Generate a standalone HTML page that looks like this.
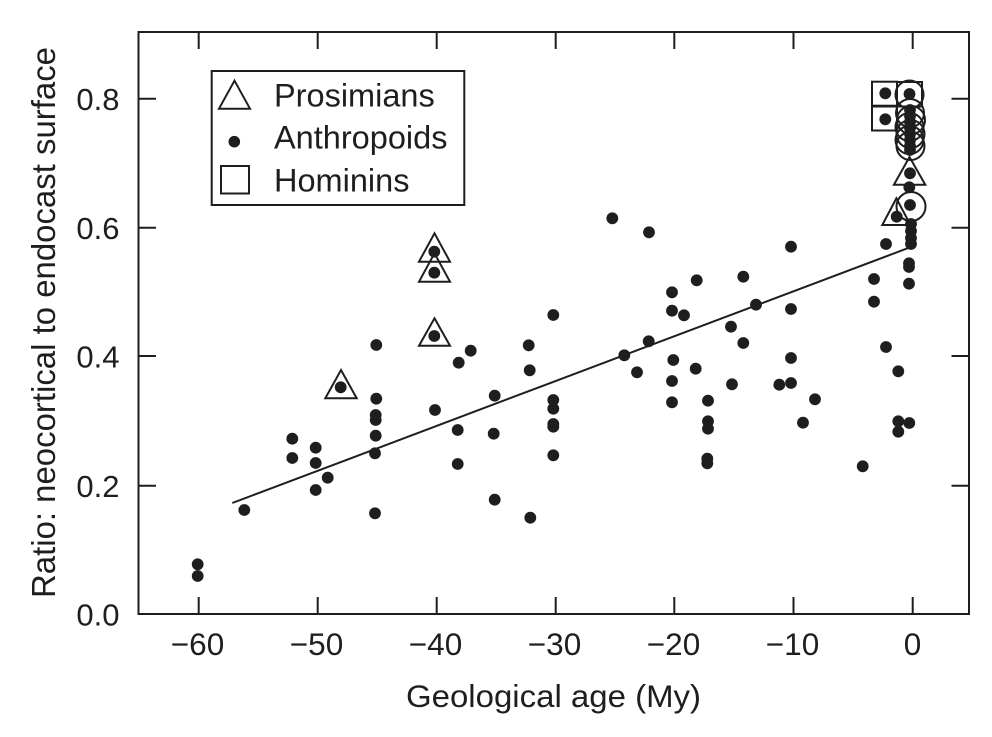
<!DOCTYPE html>
<html><head><meta charset="utf-8"><style>
html,body{margin:0;padding:0;background:#fff;}
svg{display:block;}
text{font-family:"Liberation Sans",Arial,sans-serif;fill:#1e1e1e;}
</style></head><body>
<svg width="992" height="737" viewBox="0 0 992 737" xmlns="http://www.w3.org/2000/svg">
<rect width="992" height="737" fill="#fff"/>
<g stroke="#1e1e1e" stroke-width="2" fill="none">
<rect x="138.5" y="32" width="830.5" height="582"/>
<!-- bottom ticks -->
<path d="M198.7 614V597M317.7 614V597M436.7 614V597M555.7 614V597M674.3 614V597M793.5 614V597M912.7 614V597"/>
<!-- top ticks -->
<path d="M198.7 32V49M317.7 32V49M436.7 32V49M555.7 32V49M674.3 32V49M793.5 32V49M912.7 32V49"/>
<!-- left ticks -->
<path d="M138.5 485.7H156M138.5 356H156M138.5 227.7H156M138.5 98.7H156"/>
<!-- right ticks -->
<path d="M969 485.7H951.5M969 356H951.5M969 227.7H951.5M969 98.7H951.5"/>
<!-- regression line -->
<path d="M232.3 503L911.7 246.7"/>
</g>
<!-- y tick labels -->
<g font-size="31" text-anchor="end">
<text x="119.5" y="625.5">0.0</text>
<text x="119.5" y="497">0.2</text>
<text x="119.5" y="367.5">0.4</text>
<text x="119.5" y="239">0.6</text>
<text x="119.5" y="110">0.8</text>
</g>
<!-- x tick labels -->
<g font-size="31.5" text-anchor="middle">
<text x="197.5" y="655">−60</text>
<text x="316.5" y="655">−50</text>
<text x="435.5" y="655">−40</text>
<text x="554.5" y="655">−30</text>
<text x="673.5" y="655">−20</text>
<text x="792.5" y="655">−10</text>
<text x="912.5" y="655">0</text>
</g>
<text x="553.5" y="707" font-size="31.5" text-anchor="middle" textLength="295" lengthAdjust="spacingAndGlyphs">Geological age (My)</text>
<text transform="translate(55,322.5) rotate(-90)" font-size="33" text-anchor="middle" textLength="551" lengthAdjust="spacingAndGlyphs">Ratio: neocortical to endocast surface</text>

<!-- legend -->
<rect x="211.7" y="71" width="252.6" height="134" fill="#fff" stroke="#1e1e1e" stroke-width="2"/>
<path d="M234.5 80.7L250 108.7L219 108.7Z" fill="none" stroke="#1e1e1e" stroke-width="2"/>
<circle cx="234.3" cy="141.7" r="5.8" fill="#1e1e1e"/>
<rect x="221" y="166" width="28" height="27.5" fill="none" stroke="#1e1e1e" stroke-width="2"/>
<g font-size="32.5">
<text x="274" y="106.7">Prosimians</text>
<text x="274" y="148.3">Anthropoids</text>
<text x="274" y="191.7">Hominins</text>
</g>

<!-- dots -->
<g fill="#1e1e1e">
<circle cx="197.7" cy="564.3" r="5.9"/><circle cx="197.7" cy="576" r="5.9"/>
<circle cx="244.3" cy="510" r="5.9"/>
<circle cx="292.3" cy="438.7" r="5.9"/><circle cx="292.3" cy="458" r="5.9"/>
<circle cx="315.7" cy="447.7" r="5.9"/><circle cx="315.7" cy="463" r="5.9"/>
<circle cx="327.7" cy="477.7" r="5.9"/><circle cx="315.7" cy="490" r="5.9"/>
<circle cx="340.7" cy="387.3" r="5.9"/>
<circle cx="376.3" cy="345" r="5.9"/><circle cx="376.3" cy="398.7" r="5.9"/>
<circle cx="375.7" cy="415" r="5.9"/><circle cx="375.7" cy="420" r="5.9"/>
<circle cx="375.7" cy="435.7" r="5.9"/><circle cx="375" cy="453.3" r="5.9"/>
<circle cx="375" cy="513.3" r="5.9"/>
<circle cx="434.3" cy="336" r="5.9"/><circle cx="434.3" cy="251.7" r="5.9"/><circle cx="434.3" cy="272.7" r="5.9"/>
<circle cx="435" cy="410" r="5.9"/>
<circle cx="457.7" cy="430" r="5.9"/><circle cx="457.7" cy="464" r="5.9"/>
<circle cx="458.7" cy="362.7" r="5.9"/><circle cx="470.7" cy="350.7" r="5.9"/>
<circle cx="494.7" cy="395.7" r="5.9"/><circle cx="493.7" cy="433.7" r="5.9"/><circle cx="494.7" cy="499.7" r="5.9"/>
<circle cx="528.7" cy="345.3" r="5.9"/><circle cx="529.7" cy="370.3" r="5.9"/><circle cx="530.3" cy="517.7" r="5.9"/>
<circle cx="553.3" cy="315" r="5.9"/><circle cx="553.3" cy="400" r="5.9"/><circle cx="553.3" cy="408.7" r="5.9"/>
<circle cx="553.3" cy="424" r="5.9"/><circle cx="553.3" cy="426.7" r="5.9"/><circle cx="553.3" cy="455.3" r="5.9"/>
<circle cx="612.3" cy="218.3" r="5.9"/><circle cx="624.3" cy="355.3" r="5.9"/><circle cx="637" cy="372.3" r="5.9"/>
<circle cx="649" cy="232.3" r="5.9"/><circle cx="648.7" cy="341.3" r="5.9"/>
<circle cx="672" cy="292.3" r="5.9"/><circle cx="672" cy="310.7" r="5.9"/><circle cx="684" cy="315.3" r="5.9"/>
<circle cx="673.3" cy="360" r="5.9"/><circle cx="672" cy="381" r="5.9"/><circle cx="672" cy="402.3" r="5.9"/>
<circle cx="696.7" cy="280.3" r="5.9"/><circle cx="695.7" cy="368.7" r="5.9"/>
<circle cx="708" cy="400.7" r="5.9"/><circle cx="708" cy="421.3" r="5.9"/><circle cx="708" cy="428.7" r="5.9"/>
<circle cx="707.3" cy="458.7" r="5.9"/><circle cx="707.3" cy="463.3" r="5.9"/>
<circle cx="731" cy="326.7" r="5.9"/><circle cx="732" cy="384.3" r="5.9"/>
<circle cx="743.3" cy="276.7" r="5.9"/><circle cx="743.3" cy="343" r="5.9"/>
<circle cx="756" cy="304.7" r="5.9"/><circle cx="779.3" cy="384.7" r="5.9"/>
<circle cx="791" cy="309" r="5.9"/><circle cx="791" cy="358" r="5.9"/><circle cx="791" cy="383" r="5.9"/><circle cx="791" cy="246.7" r="5.9"/>
<circle cx="803" cy="422.7" r="5.9"/><circle cx="815" cy="399.3" r="5.9"/>
<circle cx="862.7" cy="466.3" r="5.9"/>
<circle cx="874" cy="279" r="5.9"/><circle cx="874" cy="301.7" r="5.9"/>
<circle cx="886" cy="244" r="5.9"/><circle cx="886" cy="347" r="5.9"/>
<circle cx="898.3" cy="371.3" r="5.9"/><circle cx="898.3" cy="421.3" r="5.9"/><circle cx="909.3" cy="423" r="5.9"/><circle cx="898.3" cy="431.7" r="5.9"/>
<circle cx="909" cy="263.3" r="5.9"/><circle cx="909" cy="267" r="5.9"/><circle cx="909" cy="283.7" r="5.9"/>
<circle cx="911" cy="224" r="5.9"/><circle cx="911" cy="231" r="5.9"/><circle cx="911" cy="238" r="5.9"/><circle cx="911" cy="244" r="5.9"/>
<circle cx="896.7" cy="216.7" r="5.9"/><circle cx="910" cy="205" r="5.9"/>
<circle cx="909.3" cy="187.3" r="5.9"/><circle cx="910" cy="173.3" r="5.9"/>
<circle cx="910" cy="110" r="5.9"/><circle cx="910" cy="116" r="5.9"/><circle cx="910" cy="122" r="5.9"/><circle cx="910" cy="128" r="5.9"/>
<circle cx="910" cy="134" r="5.9"/><circle cx="910" cy="140" r="5.9"/><circle cx="910" cy="146" r="5.9"/><circle cx="910" cy="150" r="5.9"/>
<circle cx="909.5" cy="94" r="5.9"/>
<circle cx="885.3" cy="93.3" r="5.9"/><circle cx="885.3" cy="119.3" r="5.9"/>
</g>

<!-- open markers -->
<g fill="none" stroke="#1e1e1e" stroke-width="2">
<!-- triangles -->
<path d="M341 370L356.7 398.3L325.3 398.3Z"/>
<path d="M434.5 233.3L450 261.7L419 261.7Z"/>
<path d="M434.5 253.3L450 281.7L419 281.7Z"/>
<path d="M434.5 318.3L450 345.7L419 345.7Z"/>
<path d="M909.5 157L925.3 184.8L893.9 184.8Z"/>
<path d="M896.4 198.3L910.5 225L882.3 225Z"/>
<!-- squares -->
<rect x="872" y="81.7" width="25" height="24"/>
<rect x="872" y="106.5" width="25" height="24"/>
<rect x="897" y="82" width="25" height="24.5"/>
<!-- circles -->
<circle cx="909.5" cy="94.5" r="14"/>
<circle cx="910" cy="113" r="14"/>
<circle cx="911" cy="120" r="14"/>
<circle cx="909.5" cy="127" r="14"/>
<circle cx="910.5" cy="134" r="14"/>
<circle cx="909.5" cy="140" r="14"/>
<circle cx="910.5" cy="146" r="14"/>
<circle cx="911" cy="206.5" r="14.5"/>
</g>
</svg>
</body></html>
